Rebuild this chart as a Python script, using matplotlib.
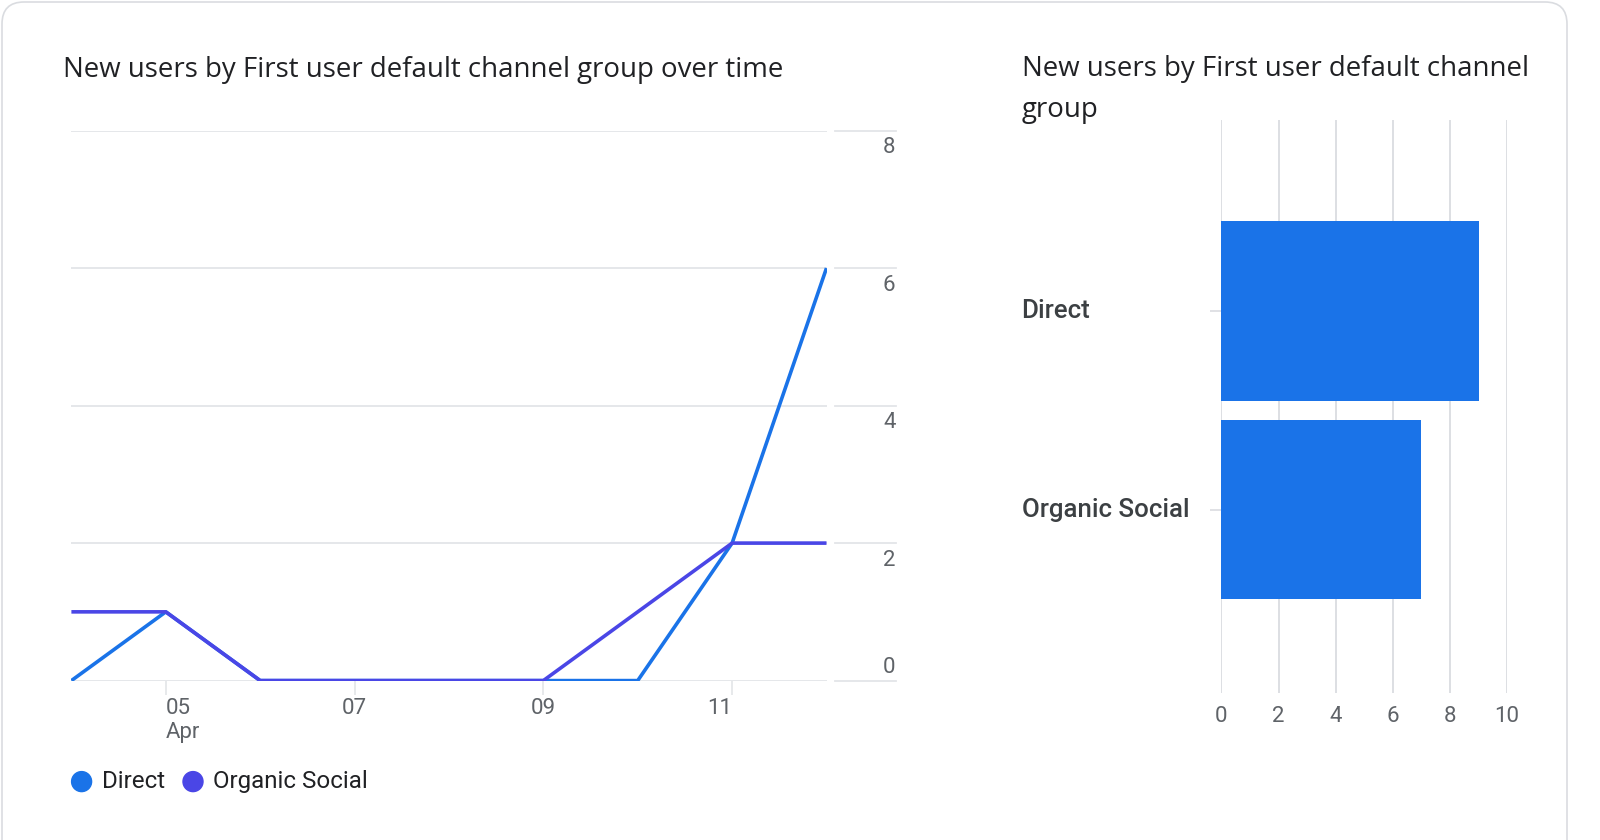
import matplotlib
matplotlib.use("Agg")
import matplotlib.pyplot as plt
from matplotlib.patches import FancyBboxPatch, Circle
from matplotlib.transforms import blended_transform_factory
import numpy as np

plt.rcParams['font.family'] = ['Roboto', 'DejaVu Sans']

# ---- data ----
days = [4, 5, 6, 7, 8, 9, 10, 11, 12]
direct = [0, 1, 0, 0, 0, 0, 0, 2, 6]
organic = [1, 1, 0, 0, 0, 0, 1, 2, 2]
x_ticks = [5, 7, 9, 11]
x_tick_labels = ["05\nApr", "07", "09", "11"]
y_ticks = [0, 2, 4, 6, 8]
series_names = ["Direct", "Organic Social"]
bar_categories = ["Direct", "Organic Social"]
bar_values = [9, 7]
bar_ticks = [0, 2, 4, 6, 8, 10]

title_left = "New users by First user default channel group over time"
title_right = "New users by First user default channel\ngroup"

C_DIRECT = "#1a73e8"
C_ORGANIC = "#4a46e6"
GRID = "#e3e5e8"
TXT = "#5f6368"
DARK = "#3c4043"

W, H = 1600, 840
fig = plt.figure(figsize=(16, 8.4), dpi=100)
fig.patch.set_facecolor("white")

def px_axes(x0, y0, x1, y1):
    return fig.add_axes([x0 / W, 1 - y1 / H, (x1 - x0) / W, (y1 - y0) / H])

# card border
bg = fig.add_axes([0, 0, 1, 1])
bg.set_xlim(0, W); bg.set_ylim(H, 0); bg.axis("off")
bg.add_patch(FancyBboxPatch((2, 2), 1565, 900, boxstyle="round,pad=0,rounding_size=22",
                            fc="white", ec="#dadce0", lw=1.2))

# ---- line chart ----
ax = px_axes(71.4, 130.6, 826.5, 680.6)
ax.set_xlim(4, 12)
ax.set_ylim(0, 8)
for v in y_ticks:
    ax.axhline(v, color=GRID, lw=1.3, zorder=0)
    ax.plot([1.011, 1.092], [v, v], transform=ax.get_yaxis_transform(), color=GRID,
            lw=1.3, clip_on=False)
    off = -17 if v != 0 else 13.5
    ax.annotate(str(v), (1.083, v), xycoords=ax.get_yaxis_transform(),
                xytext=(0, off * 0.72), textcoords="offset points",
                ha="center", va="center", fontsize=16, color=TXT)
ax.plot(days, direct, color=C_DIRECT, lw=2.6, solid_capstyle="butt", zorder=3)
ax.plot(days, organic, color=C_ORGANIC, lw=2.6, solid_capstyle="butt", zorder=4)
for s in ax.spines.values():
    s.set_visible(False)
ax.set_yticks([])
ax.set_xticks(x_ticks)
labels = ax.set_xticklabels(x_tick_labels, fontsize=16, color=TXT, linespacing=1.2)
for i, lab in enumerate(labels):
    if i == 0:
        lab.set_ha("left"); lab.set_multialignment("left")
    elif i == len(labels) - 1:
        lab.set_ha("right")
ax.tick_params(axis="x", length=10, color=GRID, width=1.2, pad=2.5)

fig.text(63 / W, 1 - 70 / H, title_left, fontsize=19.9, color="#202124",
         family=["Open Sans", "DejaVu Sans"], va="center", ha="left")

# legend
for name, col, cx, tx in zip(series_names, [C_DIRECT, C_ORGANIC], [81.6, 193], [102, 213]):
    bg.add_patch(Circle((cx, 781.6), 10, color=col))
    bg.text(tx, 781.6, name, fontsize=17.4, color="#202124", va="center", ha="left")

# ---- bar chart ----
bx = px_axes(1221.4, 120.4, 1507.1, 693)
bx.set_xlim(0, 10)
ypos = np.arange(len(bar_categories))
bx.set_ylim(1.92, -0.958)
bx.barh(ypos, bar_values, height=0.9, color=C_DIRECT, zorder=3)
for v in bar_ticks:
    bx.axvline(v, color="#dadce0", lw=1.3, zorder=0)
for s in bx.spines.values():
    s.set_visible(False)
bx.set_xticks(bar_ticks)
bx.set_xticklabels([str(v) for v in bar_ticks], fontsize=16, color=TXT)
bx.tick_params(axis="x", length=0, pad=9)
bx.set_yticks(ypos)
bx.set_yticklabels([])
bx.tick_params(axis="y", length=8, color="#dadce0", width=1.2)
tr = blended_transform_factory(fig.transFigure, bx.transData)
for yp, cat in zip(ypos, bar_categories):
    bx.text(1021.5 / W, yp, cat, transform=tr, ha="left", va="center",
            fontsize=18.6, fontweight="medium", color=DARK)

fig.text(1021.5 / W, 1 - 55 / H, title_right, fontsize=19.9, color="#202124",
         family=["Open Sans", "DejaVu Sans"], va="top", ha="left", linespacing=1.6)

fig.savefig("out.png", dpi=100, facecolor="white")
